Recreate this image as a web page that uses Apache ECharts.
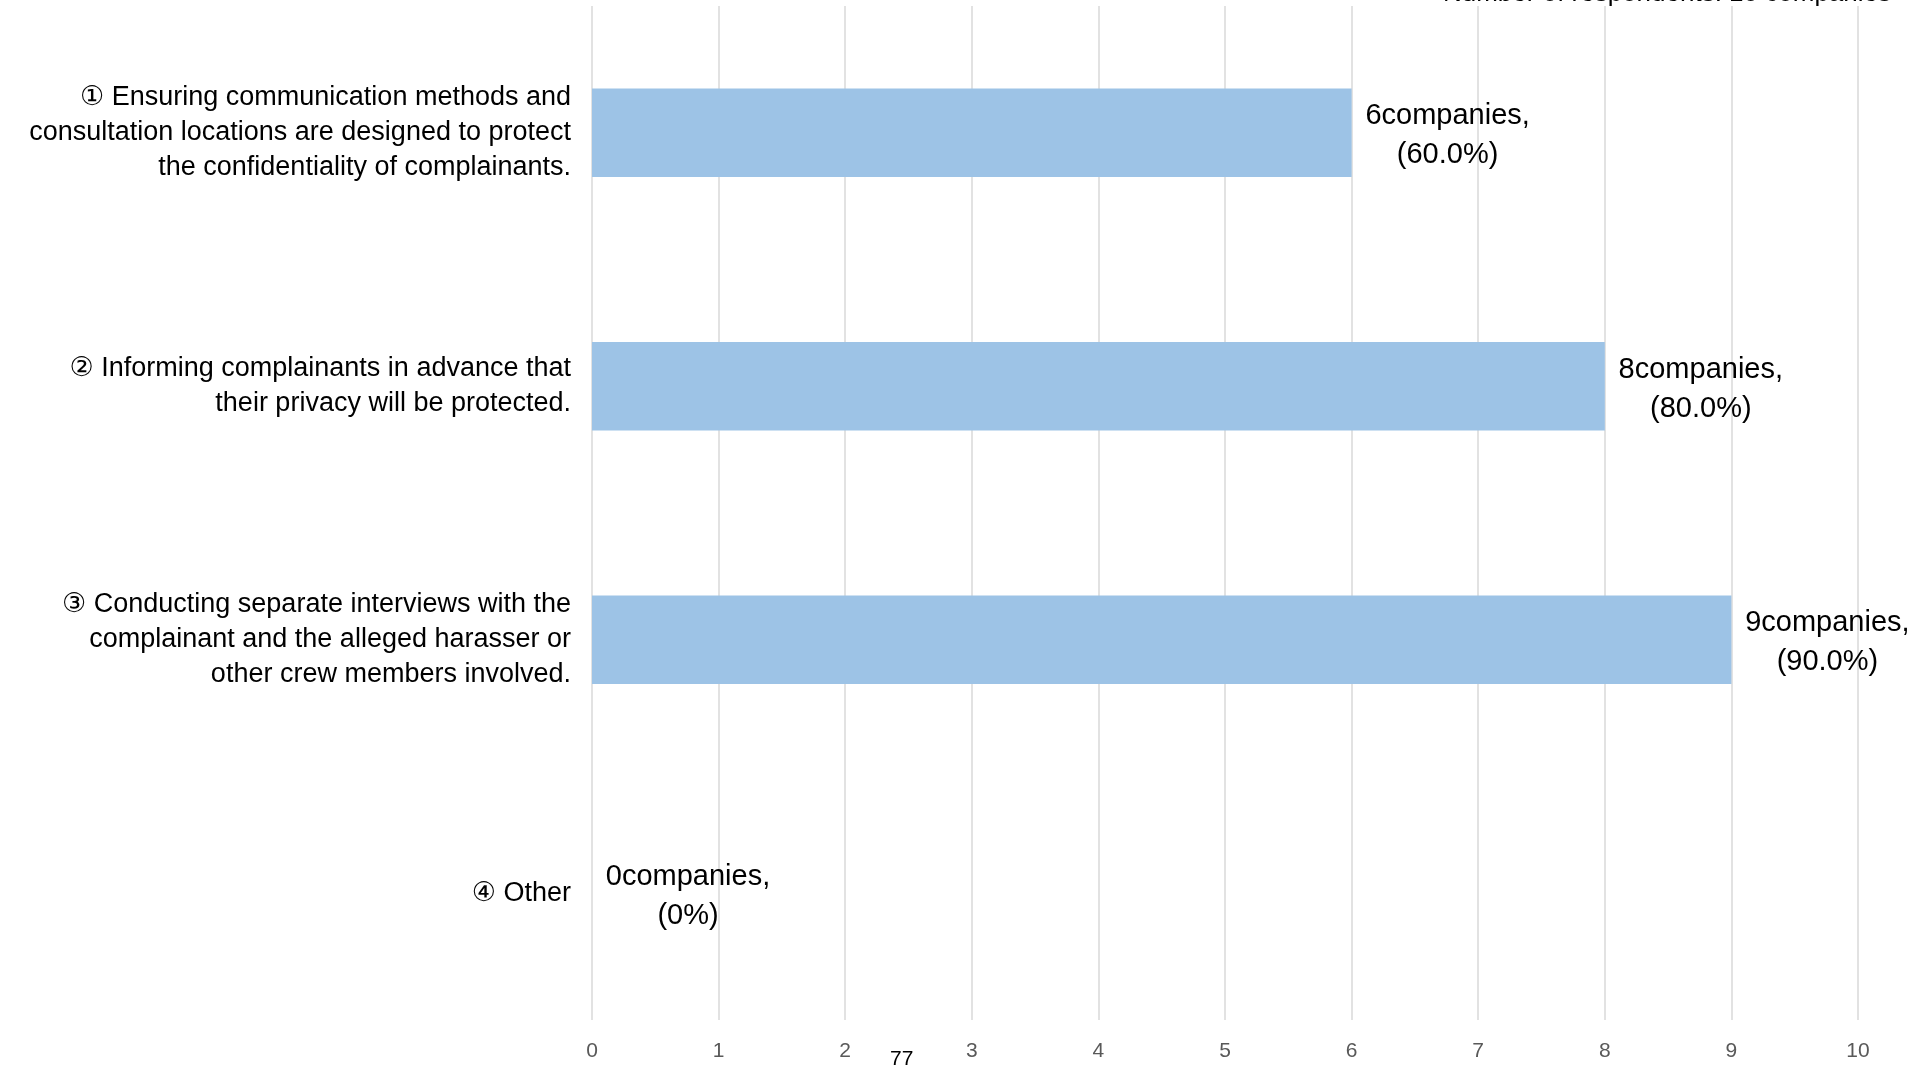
<!DOCTYPE html>
<html>
<head>
<meta charset="utf-8">
<script src="https://cdn.jsdelivr.net/npm/echarts@6/dist/echarts.min.js"></script>
<style>
html,body{margin:0;padding:0;background:#fff;}
#chart{width:1913px;height:1068px;}
</style>
</head>
<body>
<div id="chart"></div>
<script>
const categories = [
  "① Ensuring communication methods and\nconsultation locations are designed to protect\nthe confidentiality of complainants.",
  "② Informing complainants in advance that\ntheir privacy will be protected.",
  "③ Conducting separate interviews with the\ncomplainant and the alleged harasser or\nother crew members involved.",
  "④ Other"
];
const companies = [6, 8, 9, 0];
const percents = ["60.0%", "80.0%", "90.0%", "0%"];
const xTicks = [0, 1, 2, 3, 4, 5, 6, 7, 8, 9, 10];
const noteText = "Number of respondents: 10 companies";
const pageNumber = "77";

const FONT = "'Liberation Sans', 'DejaVu Sans', sans-serif";
const chart = echarts.init(document.getElementById('chart'));
chart.setOption({
  animation: false,
  backgroundColor: '#ffffff',
  grid: { left: 592, right: 55, top: 6, bottom: 48, containLabel: false },
  xAxis: {
    type: 'value',
    min: xTicks[0],
    max: xTicks[xTicks.length - 1],
    interval: 1,
    axisLine: { show: false },
    axisTick: { show: false },
    splitLine: { show: true, lineStyle: { color: '#D9D9D9', width: 1.5 } },
    axisLabel: { color: '#595959', fontSize: 21, fontFamily: FONT, margin: 21 }
  },
  yAxis: {
    type: 'category',
    inverse: true,
    data: categories,
    axisLine: { show: false },
    axisTick: { show: false },
    axisLabel: {
      color: '#000000', fontSize: 27, lineHeight: 35, fontFamily: FONT,
      align: 'right', margin: 21, padding: [5, 0, 0, 0]
    }
  },
  series: [{
    type: 'bar',
    data: companies,
    barWidth: '35%',
    itemStyle: { color: '#9DC3E6' },
    label: {
      show: true,
      position: 'right',
      distance: 0,
      offset: [96, 3],
      color: '#000000',
      fontSize: 29,
      lineHeight: 39,
      fontFamily: FONT,
      align: 'center',
      formatter: function (p) {
        return p.value + 'companies,\n(' + percents[p.dataIndex] + ')';
      }
    }
  }],
  graphic: [
    {
      type: 'text', right: 22, top: -19,
      style: { text: noteText, fill: '#000', font: '26px ' + FONT }
    },
    {
      type: 'text', left: 890, top: 1049,
      style: { text: pageNumber, fill: '#000', font: '21px ' + FONT }
    }
  ]
});
</script>
</body>
</html>
